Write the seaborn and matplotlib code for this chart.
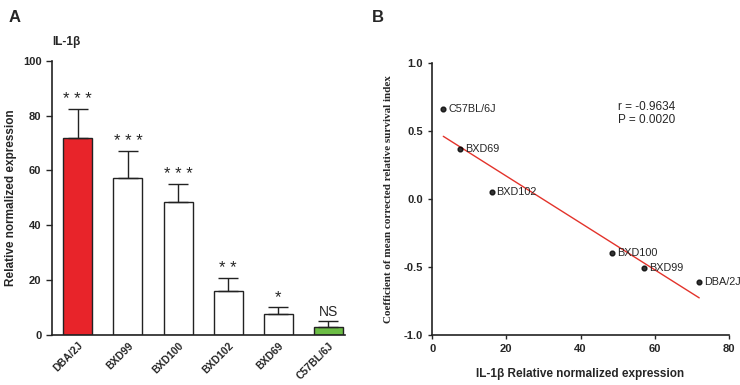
import numpy as np
import pandas as pd
import matplotlib
matplotlib.use("Agg")
import matplotlib.pyplot as plt
import seaborn as sns

# ---- data ----
strains = ["DBA/2J", "BXD99", "BXD100", "BXD102", "BXD69", "C57BL/6J"]
expression = [72.0, 57.2, 48.5, 16.0, 7.6, 3.0]
expression_err = [10.5, 9.8, 6.5, 4.8, 2.5, 2.2]
significance = ["* * *", "* * *", "* * *", "* *", "*", "NS"]
bar_colors = ["#e8242a", "white", "white", "white", "white", "#6cbd45"]

scatter_strains = ["C57BL/6J", "BXD69", "BXD102", "BXD100", "BXD99", "DBA/2J"]
scatter_x = [3.0, 7.6, 16.0, 48.5, 57.2, 72.0]
scatter_y = [0.66, 0.37, 0.05, -0.40, -0.51, -0.61]
stats_text = "r = -0.9634\nP = 0.0020"

sns.set_theme(style="ticks")
plt.rcParams["font.family"] = ["Liberation Sans", "DejaVu Sans"]

fig = plt.figure(figsize=(7.4, 3.85), dpi=100)
axA = fig.add_axes([0.070, 0.130, 0.396, 0.712])
axB = fig.add_axes([0.584, 0.130, 0.401, 0.706])

# ---- Panel A ----
dfA = pd.DataFrame({"strain": strains, "value": expression})
sns.barplot(data=dfA, x="strain", y="value", ax=axA, width=0.58,
            palette=bar_colors, hue="strain", legend=False, saturation=1,
            edgecolor="#222222", linewidth=1.0)
xs = np.arange(len(strains))
axA.errorbar(xs, expression, yerr=[np.zeros(len(xs)), expression_err],
             fmt="none", ecolor="#222222", elinewidth=1.0, capsize=7, capthick=1.0)
for i, (v, e, s) in enumerate(zip(expression, expression_err, significance)):
    if s == "NS":
        axA.text(i, v + e + 0.8, s, ha="center", va="bottom", fontsize=10)
    else:
        axA.text(i, v + e + 0.8, s, ha="center", va="bottom", fontsize=12)
axA.set_ylim(0, 100)
axA.set_xlim(-0.52, 5.33)
axA.set_yticks([0, 20, 40, 60, 80, 100])
axA.set_xlabel("")
axA.set_ylabel("Relative normalized expression", fontsize=8.5, fontweight="bold")
axA.tick_params(axis="both", labelsize=8, width=1, length=4)
for lab in axA.get_yticklabels():
    lab.set_fontweight("bold")
axA.set_xticks(xs)
axA.set_xticklabels(strains, rotation=45, ha="right", rotation_mode="anchor",
                    fontsize=7.5, fontweight="bold")
axA.tick_params(axis="x", length=0, pad=4)
sns.despine(ax=axA)
for sp in ["left", "bottom"]:
    axA.spines[sp].set_linewidth(1.2)
    axA.spines[sp].set_color("#222222")
axA.text(0.0, 1.07, "IL-1β", transform=axA.transAxes, fontsize=8.5,
         fontweight="bold", ha="left", va="center")

# ---- Panel B ----
dfB = pd.DataFrame({"x": scatter_x, "y": scatter_y, "strain": scatter_strains})
sns.regplot(data=dfB, x="x", y="y", ax=axB, ci=None, truncate=True,
            scatter_kws={"s": 12, "color": "black", "zorder": 3},
            line_kws={"color": "#e3332b", "linewidth": 1.0})
for x, y, s in zip(scatter_x, scatter_y, scatter_strains):
    axB.text(x + 1.3, y, s, fontsize=7.8, ha="left", va="center")
axB.text(0.625, 0.815, stats_text, transform=axB.transAxes, fontsize=8.5,
         ha="left", va="center", linespacing=1.1)
axB.set_xlim(0, 80)
axB.set_ylim(-1.0, 1.0)
axB.set_xticks([0, 20, 40, 60, 80])
axB.set_yticks([-1.0, -0.5, 0.0, 0.5, 1.0])
axB.set_yticklabels(["-1.0", "-0.5", "0.0", "0.5", "1.0"])
axB.tick_params(axis="both", labelsize=8, width=1, length=3)
for lab in axB.get_xticklabels() + axB.get_yticklabels():
    lab.set_fontweight("bold")
axB.set_xlabel("IL-1β Relative normalized expression", fontsize=8.5,
               fontweight="bold", labelpad=10)
axB.set_ylabel("Coefficient of mean corrected relative survival index",
               fontsize=8, fontweight="bold", family=["Liberation Serif", "DejaVu Serif"],
               labelpad=8)
sns.despine(ax=axB)
for sp in ["left", "bottom"]:
    axB.spines[sp].set_linewidth(1.2)
    axB.spines[sp].set_color("#222222")

fig.text(0.012, 0.975, "A", fontsize=12, fontweight="bold", ha="left", va="top")
fig.text(0.503, 0.975, "B", fontsize=12, fontweight="bold", ha="left", va="top")

fig.savefig("out.png", dpi=100)
